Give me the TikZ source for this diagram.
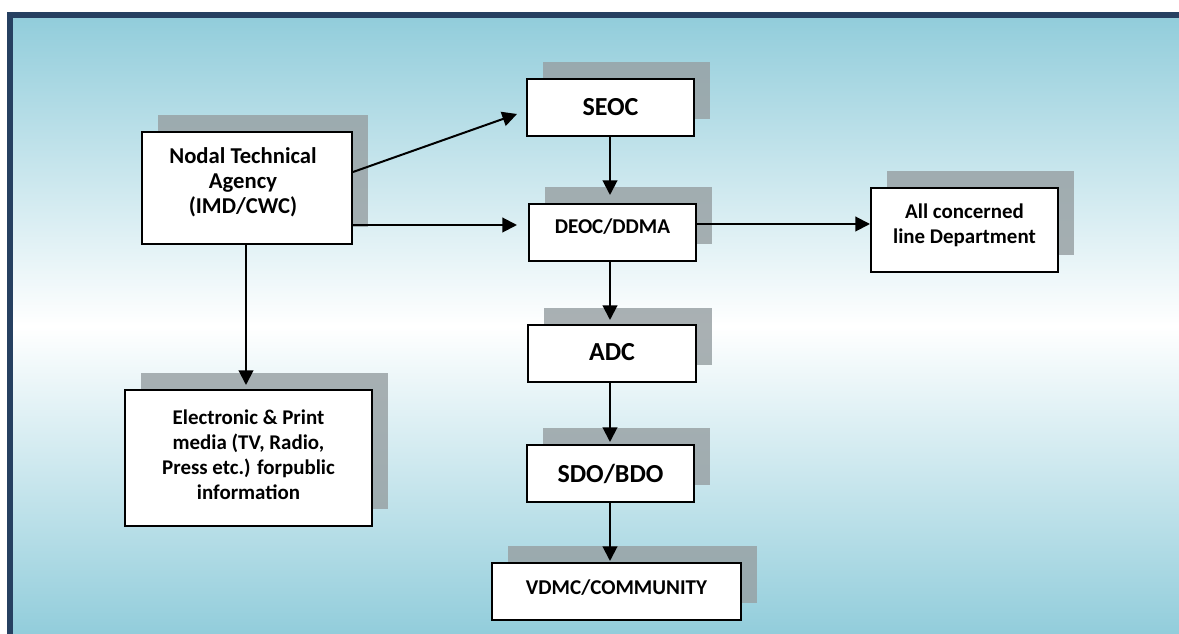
\documentclass[tikz,border=0pt]{standalone}
\usepackage{fontspec}
\setmainfont{Carlito}
\usetikzlibrary{arrows.meta,shadows}
\definecolor{skyblue}{RGB}{146,205,219}
\definecolor{framenavy}{RGB}{38,64,97}
\definecolor{shadowgray}{RGB}{151,160,163}
\tikzset{
  box/.style={draw=black, line width=1.5pt, fill=white, inner sep=0pt,
    general shadow={fill=shadowgray, fill opacity=0.82,
      shadow xshift=12pt, shadow yshift=12.4pt}},
  caption/.style={align=center, inner sep=0pt},
  link/.style={line width=1.5pt, -{Triangle[length=11pt,width=11pt]}},
  bigfont/.style={font=\fontsize{19.5pt}{23pt}\selectfont\bfseries},
  midfont/.style={font=\fontsize{15.8pt}{19pt}\selectfont\bfseries},
  headfont/.style={font=\fontsize{17pt}{18.75pt}\selectfont\bfseries},
  textfont/.style={font=\fontsize{15.7pt}{18.75pt}\selectfont\bfseries},
}
\begin{document}
\begin{tikzpicture}[x=0.75pt,y=-0.75pt]
\useasboundingbox (0,0) rectangle (1179,634);
% backdrop: blue at the edges, white through the middle
\fill[top color=skyblue, bottom color=skyblue, middle color=white]
  (12,18) rectangle (1179,634);
% frame along the top and left edges
\draw[framenavy, line width=4.3pt, line join=miter] (10,640) -- (10,15.3) -- (1190,15.3);

% boxes
\node[box, minimum width=157.5pt,  minimum height=84pt]    (nodal) at (247,188) {};
\node[box, minimum width=125.25pt, minimum height=42.75pt] (seoc)  at (610.5,107.5) {};
\node[box, minimum width=125.25pt, minimum height=42.75pt] (deoc)  at (612.5,232.5) {};
\node[box, minimum width=140.25pt, minimum height=63pt]    (dept)  at (964.5,230) {};
\node[box, minimum width=126pt,    minimum height=42.75pt] (adc)   at (612,353.5) {};
\node[box, minimum width=125.25pt, minimum height=42.75pt] (sdo)   at (610.5,473.5) {};
\node[box, minimum width=185.25pt, minimum height=102pt]   (media) at (248.5,458) {};
\node[box, minimum width=186.75pt, minimum height=42.75pt] (vdmc)  at (616.5,591.5) {};

% box captions
\node[caption, headfont] (nodal-t) at ([shift={(-4,-6)}]nodal.center)
  {Nodal Technical\\Agency\\(IMD/CWC)};
\node[caption, bigfont]  (seoc-t)  at ([shift={(0,-0.5)}]seoc.center) {SEOC};
\node[caption, midfont]  (deoc-t)  at ([shift={(0,-5.5)}]deoc.center) {DEOC/DDMA};
\node[caption, textfont] (dept-t)  at ([shift={(0,-4.5)}]dept.center)
  {All concerned\\line Department};
\node[caption, bigfont]  (adc-t)   at ([shift={(0,-1.5)}]adc.center) {ADC};
\node[caption, bigfont]  (sdo-t)   at (sdo.center) {SDO/BDO};
\node[caption, textfont] (media-t) at ([shift={(0,-3.5)}]media.center)
  {Electronic \& Print\\media (TV, Radio,\\Press etc.) forpublic\\information};
\node[caption, midfont]  (vdmc-t)  at ([shift={(0,-4)}]vdmc.center) {VDMC/COMMUNITY};

% connectors
\draw[link] ([shift={(0,-16)}]nodal.east) -- ([shift={(-9,6.5)}]seoc.west);
\draw[link] ([shift={(0,37)}]nodal.east) -- ([shift={(-11,-7.5)}]deoc.west);
\draw[link] ([shift={(0,-8.5)}]deoc.east) -- ([shift={(0,-6)}]dept.west);
\draw[link] ([shift={(-0.5,0)}]seoc.south) -- ([shift={(-2.5,-8)}]deoc.north);
\draw[link] ([shift={(-2.5,0)}]deoc.south) -- ([shift={(-2,-4)}]adc.north);
\draw[link] ([shift={(-2,0)}]adc.south) -- ([shift={(-0.5,-2)}]sdo.north);
\draw[link] ([shift={(-0.5,0)}]sdo.south) -- ([shift={(-6.5,-1)}]vdmc.north);
\draw[link] ([shift={(-1,0)}]nodal.south) -- ([shift={(-2.5,-4)}]media.north);
\end{tikzpicture}
\end{document}
